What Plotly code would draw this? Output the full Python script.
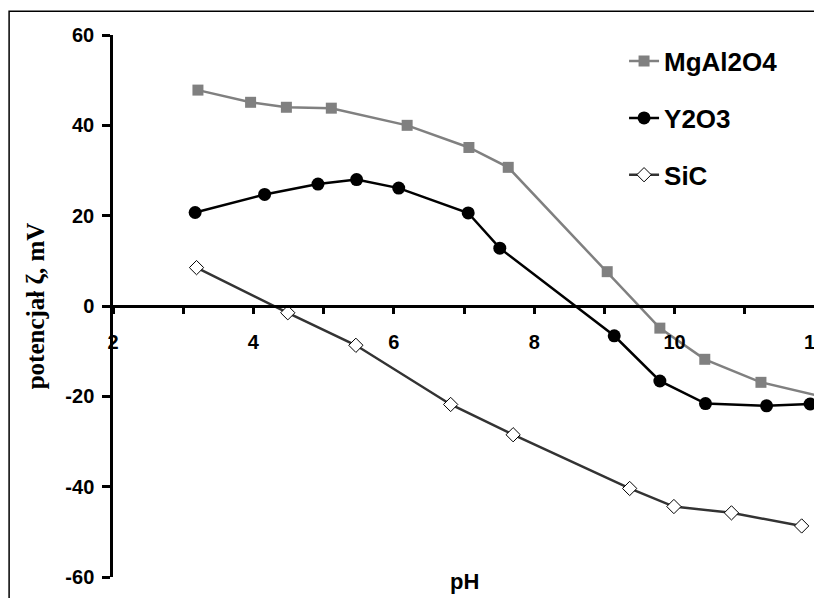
import plotly.graph_objects as go

# Data
ph_mg = [3.21, 3.96, 4.47, 5.11, 6.19, 7.07, 7.63, 9.04, 9.79, 10.43, 11.23, 12.03]
z_mg = [47.8, 45.1, 44.0, 43.8, 40.0, 35.1, 30.7, 7.6, -4.9, -11.8, -16.9, -19.8]
ph_y = [3.17, 4.16, 4.92, 5.47, 6.07, 7.06, 7.51, 9.14, 9.79, 10.44, 11.31, 11.93]
z_y = [20.7, 24.7, 27.0, 28.0, 26.1, 20.6, 12.8, -6.6, -16.6, -21.6, -22.1, -21.7]
ph_sic = [3.19, 4.49, 5.46, 6.81, 7.70, 9.36, 9.99, 10.81, 11.81]
z_sic = [8.5, -1.5, -8.7, -21.8, -28.5, -40.4, -44.4, -45.8, -48.7]

series_names = ["MgAl2O4", "Y2O3", "SiC"]
x_ticks = [2, 4, 6, 8, 10, 12]
y_ticks = [-60, -40, -20, 0, 20, 40, 60]

SANS = "Liberation Sans, Arial, sans-serif"
SERIF = "Liberation Serif, Times New Roman, serif"

fig = go.Figure()
fig.add_trace(go.Scatter(
    x=ph_mg, y=z_mg, name=series_names[0], mode="lines+markers",
    line=dict(color="#808080", width=2.5),
    marker=dict(symbol="square", size=11, color="#808080"),
    legendgroup="a", cliponaxis=False))
fig.add_trace(go.Scatter(
    x=ph_y, y=z_y, name=series_names[1], mode="lines+markers",
    line=dict(color="#000000", width=2.5),
    marker=dict(symbol="circle", size=13, color="#000000"),
    legendgroup="b", cliponaxis=False))
fig.add_trace(go.Scatter(
    x=ph_sic, y=z_sic, name=series_names[2], mode="lines+markers",
    line=dict(color="#333333", width=2.5),
    marker=dict(symbol="diamond", size=11, color="white",
                line=dict(color="#000000", width=1)),
    legendgroup="c", cliponaxis=False))

# The page body has an 8px margin, so the figure is sized to fit the window.
fig.update_layout(
    width=814, height=590,
    margin=dict(l=105, r=7, t=27, b=21, pad=0, autoexpand=False),
    paper_bgcolor="white", plot_bgcolor="white",
    showlegend=True,
    legend=dict(x=0.728, y=0.995, xanchor="left", yanchor="top",
                font=dict(family=SANS, size=26, color="black", weight="bold"),
                traceorder="grouped", tracegroupgap=20,
                itemwidth=30, bgcolor="rgba(0,0,0,0)"),
    xaxis=dict(range=[2, 12], tickvals=x_ticks, ticktext=[str(v) for v in x_ticks],
               showgrid=False, zeroline=False,
               showline=True, linecolor="black", linewidth=2.5,
               ticks="outside", ticklen=6, tickwidth=2.5, tickcolor="black",
               minor=dict(dtick=1, tick0=2, ticks="outside", ticklen=6,
                          tickwidth=2.5, tickcolor="black"),
               anchor="free", position=0.5,
               ticklabelstandoff=11, ticklabeloverflow="allow",
               tickfont=dict(family=SANS, size=20, color="black", weight="bold")),
    yaxis=dict(range=[-60, 60], tickvals=y_ticks, ticktext=[str(v) for v in y_ticks],
               showgrid=False, zeroline=False,
               showline=True, linecolor="black", linewidth=2.5,
               ticks="outside", ticklen=8, tickwidth=2.5, tickcolor="black",
               ticklabelstandoff=4,
               tickfont=dict(family=SANS, size=20, color="black", weight="bold"),
               title=dict(text="potencjał ζ, mV", standoff=14,
                          font=dict(family=SERIF, size=25, color="black", weight="bold"))),
    shapes=[dict(type="rect", xref="paper", yref="paper",
                 x0=-0.148, x1=1.05, y0=-0.08, y1=1.044,
                 line=dict(color="black", width=1.5), fillcolor="rgba(0,0,0,0)",
                 layer="below")],
    annotations=[dict(text="pH", xref="paper", yref="paper", x=0.5, y=-0.009,
                      xanchor="center", yanchor="middle", showarrow=False,
                      font=dict(family=SANS, size=22, color="black", weight="bold"))],
)

fig.write_html("out.html")
